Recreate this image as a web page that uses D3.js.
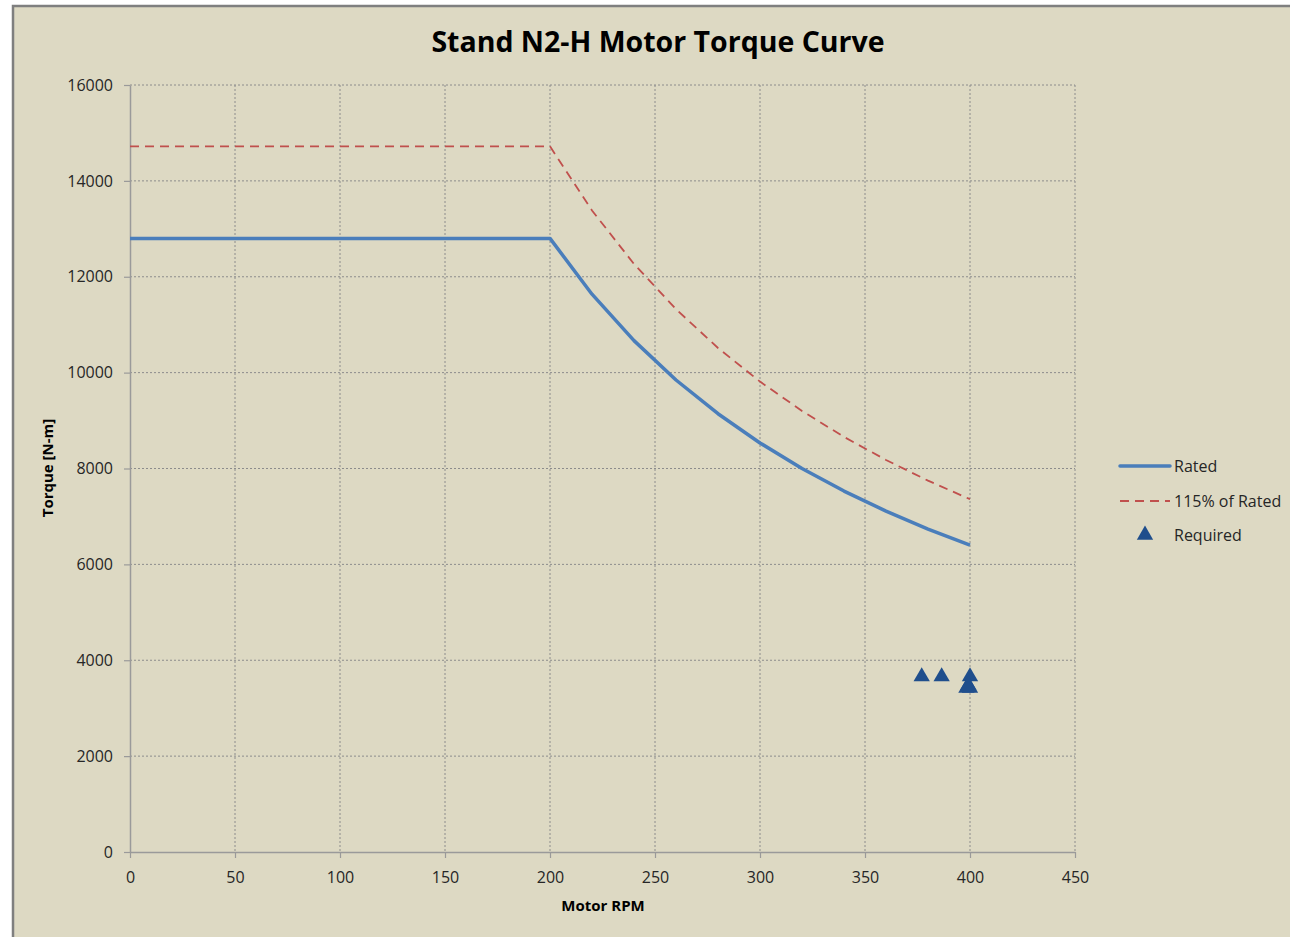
<!DOCTYPE html>
<html>
<head>
<meta charset="utf-8">
<script src="https://cdn.jsdelivr.net/npm/d3@7"></script>
<style>
  html, body { margin: 0; padding: 0; background: #fff; }
  svg { display: block; }
</style>
</head>
<body>
<div id="chart"></div>
<script>
// data
const rpm = [0, 200, 220, 240, 260, 280, 300, 320, 340, 360, 380, 400];
const ratedTorque = [12800, 12800, 11636, 10667, 9846, 9143, 8533, 8000, 7529, 7111, 6737, 6400];
const torque115 = [14720, 14720, 13382, 12267, 11323, 10514, 9813, 9200, 8659, 8178, 7747, 7360];
const requiredRpm = [377, 386.5, 400, 398.3, 400, 399.2];
const requiredTorque = [3660, 3660, 3660, 3420, 3420, 3480];
const xTicks = [0, 50, 100, 150, 200, 250, 300, 350, 400, 450];
const yTicks = [0, 2000, 4000, 6000, 8000, 10000, 12000, 14000, 16000];
const legendLabels = ["Rated", "115% of Rated", "Required"];

const W = 1290, H = 937;
const font = "Open Sans, Liberation Sans, sans-serif";
const blue = "#4a7ebb", red = "#c0504d", dark = "#1f4e8c";

const svg = d3.select("#chart").append("svg")
  .attr("width", W).attr("height", H);

// chart area + frame
svg.append("rect").attr("x", 12).attr("y", 5).attr("width", W - 12).attr("height", H - 5)
  .attr("fill", "#ddd9c3");
svg.append("path").attr("d", `M13,${H} V6 H${W}`)
  .attr("fill", "none").attr("stroke", "#7f7f7f").attr("stroke-width", 2.5);

const x = d3.scaleLinear().domain([0, 450]).range([130, 1075]);
const y = d3.scaleLinear().domain([0, 16000]).range([852, 85]);

// grid
const grid = svg.append("g");
grid.selectAll(".gx").data(xTicks.filter(d => d > 0)).enter().append("line")
  .attr("x1", d => x(d)).attr("x2", d => x(d)).attr("y1", y(16000)).attr("y2", y(0))
  .attr("stroke", "#8c8c8c").attr("stroke-width", 1).attr("stroke-dasharray", "2,2");
grid.selectAll(".gy").data(yTicks.filter(d => d > 0)).enter().append("line")
  .attr("x1", x(0)).attr("x2", x(450)).attr("y1", d => y(d)).attr("y2", d => y(d))
  .attr("stroke", "#8c8c8c").attr("stroke-width", 1).attr("stroke-dasharray", "2,2");

// axes
const xAxis = svg.append("g").attr("transform", `translate(0,${y(0)})`)
  .call(d3.axisBottom(x).tickValues(xTicks).tickSize(6).tickPadding(14).tickSizeOuter(0));
const yAxis = svg.append("g").attr("transform", `translate(${x(0)},0)`)
  .call(d3.axisLeft(y).tickValues(yTicks).tickFormat(d3.format("d")).tickSize(6).tickPadding(11).tickSizeOuter(0));
[xAxis, yAxis].forEach(a => {
  a.select(".domain").attr("stroke", "#9a9a9a").attr("stroke-width", 1.5);
  a.selectAll(".tick line").attr("stroke", "#9a9a9a").attr("stroke-width", 1.2);
  a.selectAll("text").attr("font-family", font).attr("font-size", 16).attr("fill", "#262626");
});

// lines
const line = d3.line().x(d => x(d[0])).y(d => y(d[1]));
svg.append("path").datum(rpm.map((r, i) => [r, torque115[i]]))
  .attr("d", line).attr("fill", "none").attr("stroke", red)
  .attr("stroke-width", 1.8).attr("stroke-dasharray", "9,6");
svg.append("path").datum(rpm.map((r, i) => [r, ratedTorque[i]]))
  .attr("d", line).attr("fill", "none").attr("stroke", blue)
  .attr("stroke-width", 3.5).attr("stroke-linejoin", "round");

// required points
const tri = d3.symbol().type(d3.symbolTriangle).size(115);
svg.selectAll(".req").data(requiredRpm.map((r, i) => [r, requiredTorque[i]])).enter()
  .append("path").attr("d", tri)
  .attr("transform", d => `translate(${x(d[0])},${y(d[1])})`)
  .attr("fill", dark);

// title + axis titles
svg.append("text").attr("x", 658).attr("y", 52).attr("text-anchor", "middle")
  .attr("font-family", font).attr("font-weight", "bold").attr("font-size", 28.5)
  .attr("fill", "#000").text("Stand N2-H Motor Torque Curve");
svg.append("text").attr("x", 603).attr("y", 911).attr("text-anchor", "middle")
  .attr("font-family", font).attr("font-weight", "bold").attr("font-size", 15)
  .attr("fill", "#000").text("Motor RPM");
svg.append("text").attr("transform", "translate(53,468) rotate(-90)").attr("text-anchor", "middle")
  .attr("font-family", font).attr("font-weight", "bold").attr("font-size", 15)
  .attr("fill", "#000").text("Torque [N-m]");

// legend
const lg = svg.append("g");
const ly = [466, 501, 535];
lg.append("line").attr("x1", 1120).attr("x2", 1170).attr("y1", ly[0]).attr("y2", ly[0])
  .attr("stroke", blue).attr("stroke-width", 3.5).attr("stroke-linecap", "round");
lg.append("line").attr("x1", 1120).attr("x2", 1170).attr("y1", ly[1]).attr("y2", ly[1])
  .attr("stroke", red).attr("stroke-width", 1.8).attr("stroke-dasharray", "9,6");
lg.append("path").attr("d", tri).attr("transform", `translate(1145,${ly[2]})`).attr("fill", dark);
lg.selectAll("text").data(legendLabels).enter().append("text")
  .attr("x", 1174).attr("y", (d, i) => ly[i] + 6)
  .attr("font-family", font).attr("font-size", 16).attr("fill", "#262626")
  .text(d => d);
</script>
</body>
</html>
